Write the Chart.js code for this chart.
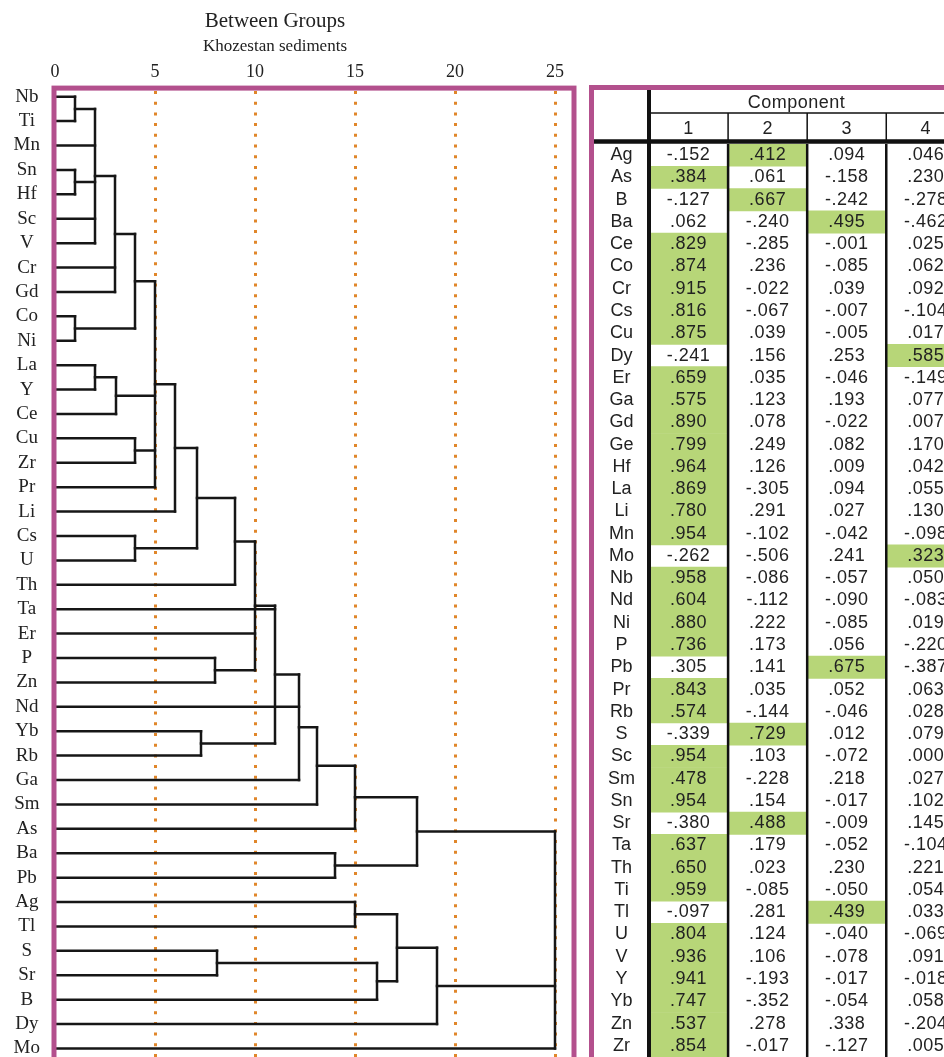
<!DOCTYPE html>
<html>
<head>
<meta charset="utf-8">
<script src="https://cdn.jsdelivr.net/npm/chart.js@4.4.0/dist/chart.umd.min.js"></script>
<style>
 html,body{margin:0;padding:0;background:#fff;overflow:hidden;width:944px;height:1057px;position:relative}
 #arbol{position:absolute;left:-22px;top:0}
 #caja{position:absolute;left:589px;top:85px;width:420px;height:1100px;border:5px solid #b3508d;box-sizing:border-box}
 #tabla{position:absolute;left:0;top:0}
</style>
</head>
<body>
<canvas id="arbol" width="602" height="1057"></canvas>
<div id="caja"><canvas id="tabla" width="350" height="967"></canvas></div>
<script>
// dendrograma: hojas en orden de arriba a abajo
const hojas = ['Nb','Ti','Mn','Sn','Hf','Sc','V','Cr','Gd','Co','Ni','La','Y','Ce','Cu','Zr','Pr','Li','Cs','U','Th','Ta','Er','P','Zn','Nd','Yb','Rb','Ga','Sm','As','Ba','Pb','Ag','Tl','S','Sr','B','Dy','Mo'];
// distancia de cada union (escala 0-25)
const alturas = [1.0,1.0,2.0,3.0,1.0,4.0,2.0,3.05,4.0,5.0,6.0,4.0,7.1,9.0,8.0,10.0,7.3,11.0,12.2,13.1,15.0,14.0,18.1,15.0,8.1,16.1,17.1,19.1,25.0];
// hijos de cada union ('#n' = union n)
const uniones = [['Nb','Ti'],['Sn','Hf'],['#0','Mn','#1','Sc','V'],['#2','Cr','Gd'],['Co','Ni'],['#3','#4'],['La','Y'],['#6','Ce'],['Cu','Zr'],['#5','#7','#8','Pr'],['#9','Li'],['Cs','U'],['#10','#11'],['#12','Th'],['P','Zn'],['#13','Er','#14'],['Yb','Rb'],['Ta','#15','#16'],['#17','Nd','Ga'],['#18','Sm'],['#19','As'],['Ba','Pb'],['#20','#21'],['Ag','Tl'],['S','Sr'],['#24','B'],['#23','#25'],['#26','Dy'],['#22','#27','Mo']];
const ticksArbol = [0,5,10,15,20,25];

// tabla de componentes
const elementos = ['Ag','As','B','Ba','Ce','Co','Cr','Cs','Cu','Dy','Er','Ga','Gd','Ge','Hf','La','Li','Mn','Mo','Nb','Nd','Ni','P','Pb','Pr','Rb','S','Sc','Sm','Sn','Sr','Ta','Th','Ti','Tl','U','V','Y','Yb','Zn','Zr'];
const comp1 = [-.152,.384,-.127,.062,.829,.874,.915,.816,.875,-.241,.659,.575,.890,.799,.964,.869,.780,.954,-.262,.958,.604,.880,.736,.305,.843,.574,-.339,.954,.478,.954,-.380,.637,.650,.959,-.097,.804,.936,.941,.747,.537,.854];
const comp2 = [.412,.061,.667,-.240,-.285,.236,-.022,-.067,.039,.156,.035,.123,.078,.249,.126,-.305,.291,-.102,-.506,-.086,-.112,.222,.173,.141,.035,-.144,.729,.103,-.228,.154,.488,.179,.023,-.085,.281,.124,.106,-.193,-.352,.278,-.017];
const comp3 = [.094,-.158,-.242,.495,-.001,-.085,.039,-.007,-.005,.253,-.046,.193,-.022,.082,.009,.094,.027,-.042,.241,-.057,-.090,-.085,.056,.675,.052,-.046,.012,-.072,.218,-.017,-.009,-.052,.230,-.050,.439,-.040,-.078,-.017,-.054,.338,-.127];
const comp4 = [.046,.230,-.278,-.462,.025,.062,.092,-.104,.017,.585,-.149,.077,.007,.170,.042,.055,.130,-.098,.323,.050,-.083,.019,-.220,-.387,.063,.028,.079,.000,.027,.102,.145,-.104,.221,.054,.033,-.069,.091,-.018,.058,-.204,.005];
const columnas = ['1','2','3','4'];

const serif = '"Liberation Serif", "Times New Roman", serif';
const sans = '"Liberation Sans", Arial, sans-serif';

// armar segmentos del arbol
var posY = {}, posX = {};
hojas.forEach((h, i) => { posY[h] = i; posX[h] = 0; });
var segmentos = [];
alturas.forEach((alt, k) => {
    let hijos = uniones[k];
    let ys = hijos.map(c => posY[c]);
    let lo = Math.min(...ys), hi = Math.max(...ys);
    hijos.forEach(c => segmentos.push([{x: posX[c], y: posY[c]}, {x: alt, y: posY[c]}]));
    segmentos.push([{x: alt, y: lo}, {x: alt, y: hi}]);
    posY['#' + k] = (lo + hi) / 2;
    posX['#' + k] = alt;
});

const marcoArbol = {
    id: 'marcoArbol',
    afterDraw(chart) {
        const {ctx, chartArea: a} = chart;
        ctx.save();
        ctx.strokeStyle = '#b3508d';
        ctx.lineWidth = 5;
        ctx.strokeRect(a.left - 1, a.top - 2.5, a.right - a.left + 3, a.bottom - a.top + 40);
        ctx.restore();
    }
};

let arbol = new Chart(document.getElementById('arbol'), {
    type: 'scatter',
    data: {
        datasets: segmentos.map(s => ({
            data: s,
            showLine: true,
            borderColor: '#161616',
            borderWidth: 2.5,
            borderCapStyle: 'square',
            pointRadius: 0
        }))
    },
    options: {
        responsive: false,
        animation: false,
        events: [],
        layout: {padding: {right: 8}},
        plugins: {
            legend: {display: false},
            tooltip: {enabled: false},
            title: {display: true, text: 'Between Groups', color: '#222',
                font: {family: serif, size: 21, weight: 'normal'}, padding: {top: 9, bottom: 0}},
            subtitle: {display: true, text: 'Khozestan sediments', color: '#222',
                font: {family: serif, size: 17}, padding: {top: 2, bottom: 2}}
        },
        scales: {
            x: {
                type: 'linear', position: 'top', min: 0, max: 25.85,
                afterBuildTicks: s => { s.ticks = ticksArbol.map(v => ({value: v})); },
                afterFit: s => { s.height = 32; },
                ticks: {font: {family: serif, size: 18}, color: '#222', padding: 8},
                grid: {
                    color: c => (c.tick && c.tick.value === 0) ? 'rgba(0,0,0,0)' : '#e0862a',
                    lineWidth: 3, drawTicks: false
                },
                border: {display: false, dash: [3, 7.7]}
            },
            y: {
                type: 'linear', reverse: true, min: -0.25, max: 39.35,
                afterBuildTicks: s => { s.ticks = hojas.map((h, i) => ({value: i})); },
                afterFit: s => { s.width = 77; s.paddingTop = 0; s.paddingBottom = 0; },
                ticks: {
                    autoSkip: false, crossAlign: 'center', padding: 15,
                    font: {family: serif, size: 19}, color: '#222',
                    callback: v => hojas[v]
                },
                grid: {display: false, drawTicks: false},
                border: {display: false}
            }
        }
    },
    plugins: [marcoArbol]
});

// tabla
const cargas = [comp1, comp2, comp3, comp4];
function formato(v) {
    return (v < 0 ? '-' : '') + Math.abs(v).toFixed(3).slice(1);
}
const resaltado = elementos.map((e, i) => {
    let fila = cargas.map(c => c[i]);
    let c = fila.indexOf(Math.max(...fila));
    return [c, c + 1];
});

const rejilla = {
    id: 'rejilla',
    afterDatasetsDraw(chart) {
        const {ctx, chartArea: a, scales: {x, y}} = chart;
        ctx.save();
        ctx.fillStyle = '#222';
        ctx.textAlign = 'center';
        ctx.textBaseline = 'middle';
        ctx.font = '18px ' + sans;
        ctx.letterSpacing = '0.5px';
        cargas.forEach((col, c) => {
            col.forEach((v, i) => ctx.fillText(formato(v), x.getPixelForValue(c + 0.5), y.getPixelForValue(i)));
        });
        // encabezado
        ctx.fillText('Component', (x.getPixelForValue(0) + a.right) / 2, a.top - 41);
        columnas.forEach((t, c) => ctx.fillText(t, x.getPixelForValue(c + 0.5), a.top - 15));
        ctx.strokeStyle = '#111';
        ctx.lineWidth = 1.5;
        ctx.beginPath();
        ctx.moveTo(x.getPixelForValue(0), a.top - 31);
        ctx.lineTo(a.right, a.top - 31);
        [1, 2, 3].forEach(c => {
            ctx.moveTo(x.getPixelForValue(c), a.top - 31);
            ctx.lineTo(x.getPixelForValue(c), a.top - 4);
        });
        ctx.stroke();
        ctx.lineWidth = 2.5;
        ctx.beginPath();
        [1, 2, 3].forEach(c => {
            ctx.moveTo(x.getPixelForValue(c), a.top);
            ctx.lineTo(x.getPixelForValue(c), a.bottom);
        });
        ctx.stroke();
        ctx.lineWidth = 4;
        ctx.beginPath();
        ctx.moveTo(x.getPixelForValue(0), 0);
        ctx.lineTo(x.getPixelForValue(0), a.bottom);
        ctx.stroke();
        ctx.lineWidth = 4.5;
        ctx.beginPath();
        ctx.moveTo(0, a.top - 2.5);
        ctx.lineTo(a.right, a.top - 2.5);
        ctx.stroke();
        ctx.restore();
    }
};

let tabla = new Chart(document.getElementById('tabla'), {
    type: 'bar',
    data: {
        labels: elementos,
        datasets: [{
            data: resaltado,
            backgroundColor: '#b7d678',
            borderWidth: 0,
            barPercentage: 1,
            categoryPercentage: 1
        }]
    },
    options: {
        indexAxis: 'y',
        responsive: false,
        animation: false,
        events: [],
        layout: {padding: {top: 54}},
        plugins: {legend: {display: false}, tooltip: {enabled: false}},
        scales: {
            x: {type: 'linear', min: 0, max: 3.73, display: false},
            y: {
                afterFit: s => { s.width = 55; s.paddingTop = 0; s.paddingBottom = 0; },
                ticks: {autoSkip: false, crossAlign: 'center', padding: 14,
                    font: {family: sans, size: 18}, color: '#222'},
                grid: {display: false, drawTicks: false},
                border: {display: false}
            }
        }
    },
    plugins: [rejilla]
});
</script>
</body>
</html>
